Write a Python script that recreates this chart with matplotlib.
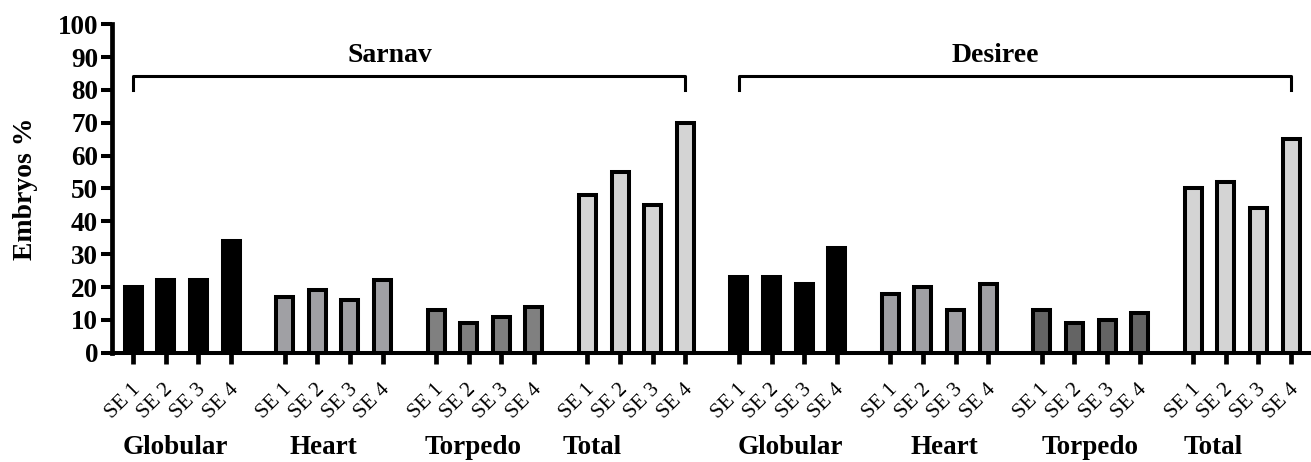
import matplotlib
matplotlib.use("Agg")
import matplotlib.pyplot as plt
import matplotlib.transforms as mtransforms
import numpy as np

plt.rcParams['font.family'] = ['Liberation Serif', 'DejaVu Serif']

# data
cultivars = ["Sarnav", "Desiree"]
stages = ["Globular", "Heart", "Torpedo", "Total"]
lines = ["SE 1", "SE 2", "SE 3", "SE 4"]

sarnav_globular = [20, 22, 22, 34]
sarnav_heart = [17, 19, 16, 22]
sarnav_torpedo = [13, 9, 11, 14]
sarnav_total = [48, 55, 45, 70]

desiree_globular = [23, 23, 21, 32]
desiree_heart = [18, 20, 13, 21]
desiree_torpedo = [13, 9, 10, 12]
desiree_total = [50, 52, 44, 65]

groups = [sarnav_globular, sarnav_heart, sarnav_torpedo, sarnav_total,
          desiree_globular, desiree_heart, desiree_torpedo, desiree_total]
fills = ["#000000", "#a0a0a4", "#808080", "#d4d4d4",
         "#000000", "#a0a0a4", "#646464", "#d4d4d4"]

# stage label shift (in bar slots) from first bar of its group
label_shift = [1.28, 1.20, 1.12, 0.15, 1.59, 1.65, 1.49, 0.60]

step = 4.64
fig = plt.figure(figsize=(13.11, 4.62), dpi=100)
ax = fig.add_axes([112 / 1311, (462 - 352.7) / 462, 1 - 112 / 1311, (352.7 - 24.3) / 462])

pos_all = []
for g, vals in enumerate(groups):
    x = g * step + np.arange(4)
    pos_all.extend(x)
    ax.bar(x, vals, width=0.52, color=fills[g], edgecolor="black", linewidth=2.9, zorder=3)

pos_all = np.array(pos_all)
ax.set_xlim(-0.65, pos_all[-1] + 0.61)
ax.set_ylim(0, 100)

ax.spines['top'].set_visible(False)
ax.spines['right'].set_visible(False)
ax.spines['left'].set_linewidth(3.4)
ax.spines['bottom'].set_linewidth(2.9)

ax.set_yticks(range(0, 101, 10))
ax.tick_params(axis='y', length=8, width=2.9, labelsize=19.5, pad=2)
for t in ax.get_yticklabels():
    t.set_fontweight('bold')

ax.set_xticks(pos_all)
ax.set_xticklabels(lines * 8, rotation=45, ha='center', fontsize=15.5)
ax.tick_params(axis='x', length=8, width=3.4, pad=12)
shift = mtransforms.ScaledTranslation(-0.1, 0, fig.dpi_scale_trans)
for t in ax.get_xticklabels():
    t.set_transform(t.get_transform() + shift)

ax.set_ylabel("Embryos %", fontsize=20, fontweight='bold', labelpad=14)

# stage names under each group
for g in range(8):
    ax.text(g * step + label_shift[g], -0.29, stages[g % 4], transform=ax.get_xaxis_transform(),
            ha='center', va='center', fontsize=19.5, fontweight='bold')

# brackets with cultivar names
for c in range(2):
    x0 = pos_all[c * 16]
    x1 = pos_all[c * 16 + 15]
    ax.plot([x0, x0, x1, x1], [80, 84.3, 84.3, 80], color="black", lw=2.2, clip_on=False)
    ax.text((x0 + x1) / 2 - 0.6, 90.6, cultivars[c], ha='center', va='center',
            fontsize=20, fontweight='bold')

fig.savefig("out.png", dpi=100)
